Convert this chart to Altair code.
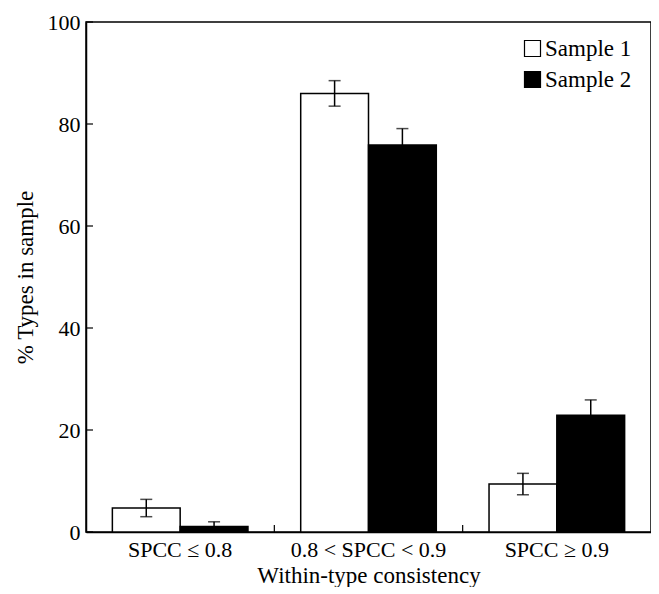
import altair as alt
import pandas as pd

categories = ["SPCC ≤ 0.8", "0.8 < SPCC < 0.9", "SPCC ≥ 0.9"]
samples = ["Sample 1", "Sample 2"]
sample1_vals = [4.7, 86.0, 9.4]
sample1_err = [1.7, 2.5, 2.1]
sample2_vals = [1.1, 75.9, 22.9]
sample2_err = [0.9, 3.2, 3.0]
y_ticks = [0, 20, 40, 60, 80, 100]

rows = []
for i, c in enumerate(categories):
    rows.append({"cat": c, "sample": samples[0], "v": sample1_vals[i],
                 "lo": sample1_vals[i] - sample1_err[i], "hi": sample1_vals[i] + sample1_err[i]})
    rows.append({"cat": c, "sample": samples[1], "v": sample2_vals[i],
                 "lo": sample2_vals[i] - sample2_err[i], "hi": sample2_vals[i] + sample2_err[i]})
df = pd.DataFrame(rows)
ytick_df = pd.DataFrame({"t": y_ticks})
sep_df = pd.DataFrame({"cat": categories[:-1]})

FONT = "Liberation Serif"
W, H = 565, 510
STEP = W / 3

x_scale = alt.Scale(domain=categories, paddingInner=0.28, paddingOuter=0.14)
x = alt.X("cat:N", sort=categories, title="Within-type consistency", scale=x_scale,
          axis=alt.Axis(labelAngle=0, ticks=False, labelPadding=7, titlePadding=4))
xo = alt.XOffset("sample:N", sort=samples)
y_scale = alt.Scale(domain=[0, 100], nice=False)

bars = alt.Chart(df).mark_bar(stroke="black", strokeWidth=1.5).encode(
    x=x, xOffset=xo,
    y=alt.Y("v:Q", scale=y_scale, title="% Types in sample",
            axis=alt.Axis(values=y_ticks, ticks=False, labelPadding=6,
                          titlePadding=10, grid=False)),
    fill=alt.Fill("sample:N", sort=samples,
                  scale=alt.Scale(domain=samples, range=["white", "black"]),
                  legend=alt.Legend(title=None, orient="none", legendX=435, legendY=15,
                                    symbolType="square", symbolSize=256,
                                    symbolStrokeColor="black", symbolStrokeWidth=1.2,
                                    labelFontSize=23, labelFont=FONT, labelColor="black",
                                    rowPadding=7, labelOffset=1)),
)

rules = alt.Chart(df).mark_rule(color="black", strokeWidth=1.5).encode(
    x=x, xOffset=xo, y=alt.Y("lo:Q", scale=y_scale), y2="hi:Q")
caps_hi = alt.Chart(df).mark_tick(color="black", thickness=1.5, size=12).encode(
    x=x, xOffset=xo, y=alt.Y("hi:Q", scale=y_scale))
caps_lo = alt.Chart(df).mark_tick(color="black", thickness=1.5, size=12).encode(
    x=x, xOffset=xo, y=alt.Y("lo:Q", scale=y_scale))

# inward axis ticks
yticks = alt.Chart(ytick_df).mark_rule(color="black", strokeWidth=1.2).encode(
    y=alt.Y("t:Q", scale=y_scale), x=alt.value(0), x2=alt.value(7))
xticks = alt.Chart(sep_df).mark_rule(color="black", strokeWidth=1.2, xOffset=STEP / 2).encode(
    x=alt.X("cat:N", scale=x_scale, sort=categories), y=alt.value(H), y2=alt.value(H - 7))

chart = alt.layer(bars, rules, caps_hi, caps_lo, yticks, xticks).properties(
    width=W, height=H,
    padding={"left": 6, "top": 3, "right": 0, "bottom": 0},
).configure_view(stroke="black", strokeWidth=1.5).configure_axis(
    domainColor="black", domainWidth=1.5,
    labelFont=FONT, titleFont=FONT, labelFontSize=22, titleFontSize=23,
    labelColor="black", titleColor="black", titleFontWeight="normal",
)

chart.save("out.html", embed_options={"renderer": "svg", "actions": False})
